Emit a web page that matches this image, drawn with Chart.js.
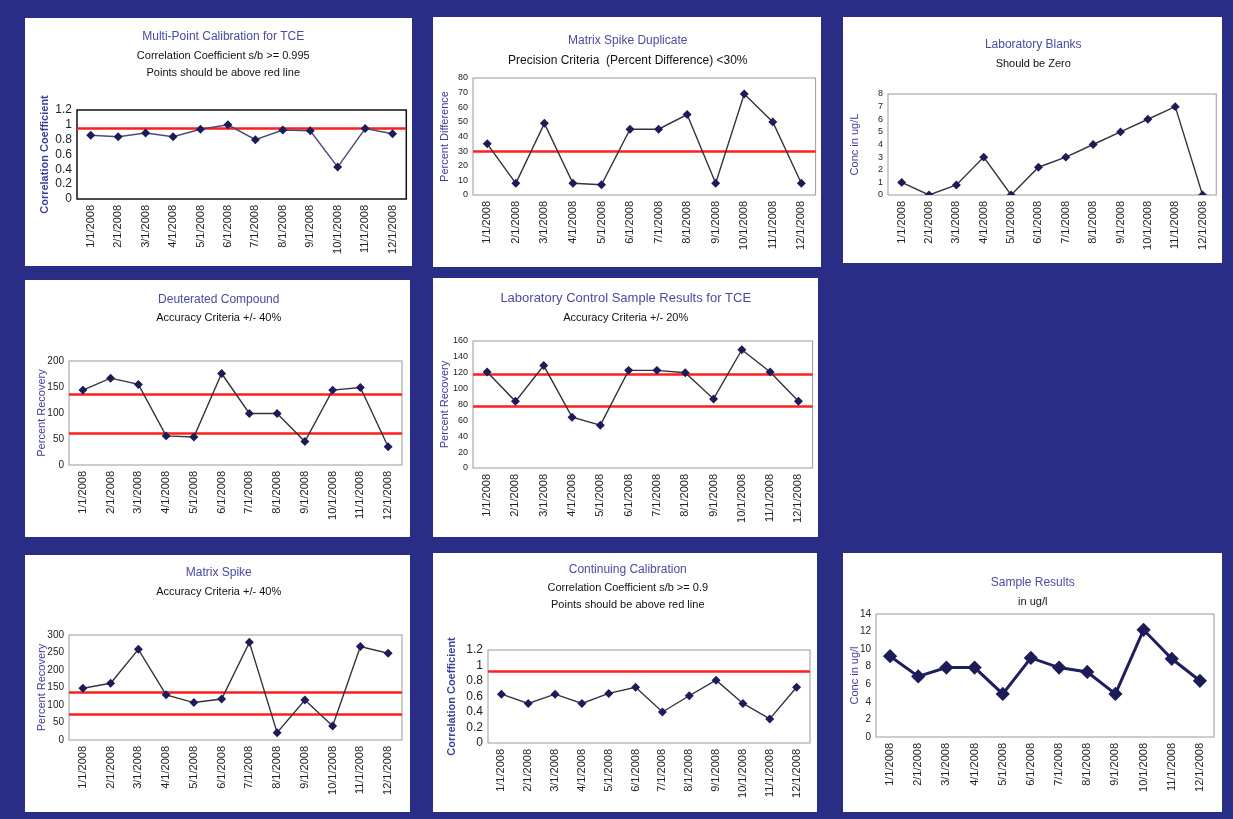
<!DOCTYPE html>
<html>
<head>
<meta charset="utf-8">
<script src="https://cdn.jsdelivr.net/npm/chart.js@4/dist/chart.umd.min.js"></script>
<style>
  html, body { margin: 0; padding: 0; }
  body { width: 1233px; height: 819px; background: #2a2d86; position: relative; overflow: hidden; }
  .panel { position: absolute; background: #fff; }
  .panel canvas { display: block; }
</style>
</head>
<body>
<script>
// x axis: one sample per month
const months = ["1/1/2008", "2/1/2008", "3/1/2008", "4/1/2008", "5/1/2008", "6/1/2008",
  "7/1/2008", "8/1/2008", "9/1/2008", "10/1/2008", "11/1/2008", "12/1/2008"];

// values
const multiPointValues = [0.86, 0.84, 0.89, 0.84, 0.94, 1.0, 0.80, 0.93, 0.92, 0.43, 0.95, 0.88];
const multiPointLimits = [0.96];

const spikeDupValues = [35, 8, 49, 8, 7, 45, 45, 55, 8, 69, 50, 8];
const spikeDupLimits = [30];

const blanksValues = [1, 0, 0.8, 3, 0, 2.2, 3, 4, 5, 6, 7, 0];
const blanksLimits = [];

const deuteratedValues = [144, 167, 155, 56, 54, 176, 99, 99, 45, 144, 149, 35];
const deuteratedLimits = [136, 61];

const lcsValues = [121, 84, 129, 64, 54, 123, 123, 120, 87, 149, 121, 84];
const lcsLimits = [118, 78];

const matrixSpikeValues = [148, 162, 259, 129, 107, 117, 279, 21, 114, 40, 267, 248];
const matrixSpikeLimits = [138, 73];

const contCalValues = [0.63, 0.51, 0.63, 0.51, 0.64, 0.72, 0.40, 0.61, 0.81, 0.51, 0.31, 0.72];
const contCalLimits = [0.93];

const sampleValues = [9.2, 6.9, 7.9, 7.9, 4.9, 9.0, 7.9, 7.4, 4.9, 12.2, 8.9, 6.4];
const sampleLimits = [];

// red limit lines + plot frame
const limitLines = {
  id: 'limitLines',
  beforeDatasetsDraw(chart, args, opts) {
    const { ctx, chartArea: a, scales: { y } } = chart;
    ctx.save();
    ctx.strokeStyle = opts.frame;
    ctx.lineWidth = opts.frameWidth;
    ctx.strokeRect(a.left, a.top, a.width, a.height);
    ctx.strokeStyle = '#ff1e1e';
    ctx.lineWidth = 2.5;
    opts.values.forEach(v => {
      const py = Math.round(y.getPixelForValue(v)) + 0.5;
      ctx.beginPath();
      ctx.moveTo(a.left, py);
      ctx.lineTo(a.right, py);
      ctx.stroke();
    });
    ctx.restore();
  }
};

const FONT = "'Liberation Sans', Arial, sans-serif";

function makeChart(p) {
  const div = document.createElement('div');
  div.className = 'panel';
  div.style.left = p.box[0] + 'px';
  div.style.top = p.box[1] + 'px';
  div.style.width = p.box[2] + 'px';
  div.style.height = p.box[3] + 'px';
  const canvas = document.createElement('canvas');
  canvas.width = p.box[2];
  canvas.height = p.box[3];
  div.appendChild(canvas);
  document.body.appendChild(div);

  const [bx, by, bw, bh] = p.box;
  const [pl, pt, pr, pb] = p.plot;
  const T = p.titleSize || 12, S = p.subSize || 11, L = p.subLine || S * 1.2;
  const titlePadTop = p.titleY - by - T * 0.6;
  const titlePadBottom = (p.subY - L / 2) - (p.titleY + T * 0.6);
  const subPadBottom = pt - (p.subY - L / 2 + p.sub.length * L);
  const yW = pl - p.axisTitleX + 6.5;
  const xH = 60;

  new Chart(canvas, {
    type: 'line',
    data: {
      labels: months,
      datasets: [{
        data: p.values,
        borderColor: p.lineColor || '#333340',
        borderWidth: p.lineWidth || 1.4,
        pointStyle: 'rectRot',
        pointRadius: p.pointRadius || 3.5,
        pointBackgroundColor: '#1c1c58',
        pointBorderColor: '#1c1c58',
        tension: 0,
        fill: false
      }]
    },
    options: {
      responsive: false,
      animation: false,
      layout: {
        padding: { left: pl - bx - yW, right: bx + bw - pr, top: 0, bottom: by + bh - pb - xH }
      },
      plugins: {
        legend: { display: false },
        tooltip: { enabled: false },
        title: {
          display: true, text: p.title, color: '#4a4aa2',
          font: { family: FONT, size: T, weight: 'normal', lineHeight: 1.2 },
          padding: { top: titlePadTop, bottom: titlePadBottom }
        },
        subtitle: {
          display: true, text: p.sub, color: '#111',
          font: { family: FONT, size: S, weight: 'normal', lineHeight: L / S },
          padding: { top: 0, bottom: subPadBottom }
        },
        limitLines: { values: p.limits, frame: p.frame || '#9a9a9a', frameWidth: p.frameWidth || 1 }
      },
      scales: {
        x: {
          offset: true,
          grid: { display: false, drawTicks: false },
          border: { display: false },
          ticks: { autoSkip: false, minRotation: 90, maxRotation: 90, padding: 6, color: '#222', font: { family: FONT, size: 11 } },
          afterFit: s => { s.height = xH; }
        },
        y: {
          min: 0, max: p.yMax,
          grid: { display: false, drawTicks: false },
          border: { display: false },
          ticks: {
            autoSkip: false, stepSize: p.step, padding: 5, color: '#222',
            font: { family: FONT, size: p.yTickSize || 10 },
            callback: v => String(Number(v.toFixed(2)))
          },
          title: {
            display: true, text: p.axisTitle, color: '#3c3c9c',
            font: { family: FONT, size: 11, weight: p.axisBold ? 'bold' : 'normal' },
            padding: { top: 0, bottom: 0 }
          },
          afterFit: s => { s.width = yW; }
        }
      }
    },
    plugins: [limitLines]
  });
}

makeChart({
  box: [25, 18, 387, 248], plot: [77, 110, 408, 199],
  title: 'Multi-Point Calibration for TCE', titleY: 36.7,
  sub: ['Correlation Coefficient s/b >= 0.995', 'Points should be above red line'], subY: 55.7, subLine: 17.6,
  axisTitle: 'Correlation Coefficient', axisTitleX: 45, axisBold: true,
  values: multiPointValues, limits: multiPointLimits, yMax: 1.2, step: 0.2, yTickSize: 12,
  frame: '#111', frameWidth: 1.5, lineColor: '#4a4a78'
});

makeChart({
  box: [433, 17, 388, 250], plot: [473, 78, 817, 195],
  title: 'Matrix Spike Duplicate', titleY: 40.7,
  sub: ['Precision Criteria  (Percent Difference) <30%'], subY: 60.7, subSize: 12,
  axisTitle: 'Percent Difference', axisTitleX: 445,
  values: spikeDupValues, limits: spikeDupLimits, yMax: 80, step: 10, yTickSize: 9
});

makeChart({
  box: [843, 17, 379, 246], plot: [888, 94, 1218, 195],
  title: 'Laboratory Blanks', titleY: 45,
  sub: ['Should be Zero'], subY: 64.3,
  axisTitle: 'Conc in ug/L', axisTitleX: 855,
  values: blanksValues, limits: blanksLimits, yMax: 8, step: 1, yTickSize: 9
});

makeChart({
  box: [25, 280, 385, 257], plot: [69, 361, 402, 465],
  title: 'Deuterated Compound', titleY: 299.3,
  sub: ['Accuracy Criteria +/- 40%'], subY: 318.3,
  axisTitle: 'Percent Recovery', axisTitleX: 42,
  values: deuteratedValues, limits: deuteratedLimits, yMax: 200, step: 50, yTickSize: 10
});

makeChart({
  box: [433, 278, 385, 259], plot: [473, 341, 813, 468],
  title: 'Laboratory Control Sample Results for TCE', titleY: 298.3, titleSize: 13,
  sub: ['Accuracy Criteria +/- 20%'], subY: 317.7,
  axisTitle: 'Percent Recovery', axisTitleX: 445,
  values: lcsValues, limits: lcsLimits, yMax: 160, step: 20, yTickSize: 9
});

makeChart({
  box: [25, 555, 385, 257], plot: [69, 635, 402, 740],
  title: 'Matrix Spike', titleY: 572.7,
  sub: ['Accuracy Criteria +/- 40%'], subY: 591.7,
  axisTitle: 'Percent Recovery', axisTitleX: 42,
  values: matrixSpikeValues, limits: matrixSpikeLimits, yMax: 300, step: 50, yTickSize: 10
});

makeChart({
  box: [433, 553, 384, 259], plot: [488, 650, 810, 743],
  title: 'Continuing Calibration', titleY: 570,
  sub: ['Correlation Coefficient s/b >= 0.9', 'Points should be above red line'], subY: 588.3, subLine: 16.7,
  axisTitle: 'Correlation Coefficient', axisTitleX: 452, axisBold: true,
  values: contCalValues, limits: contCalLimits, yMax: 1.2, step: 0.2, yTickSize: 12
});

makeChart({
  box: [843, 553, 379, 259], plot: [876, 614, 1217, 737],
  title: 'Sample Results', titleY: 582.7,
  sub: ['in ug/l'], subY: 601.7,
  axisTitle: 'Conc in ug/l', axisTitleX: 855,
  values: sampleValues, limits: sampleLimits, yMax: 14, step: 2, yTickSize: 10,
  lineColor: '#1e1e60', lineWidth: 3, pointRadius: 5
});
</script>
</body>
</html>
